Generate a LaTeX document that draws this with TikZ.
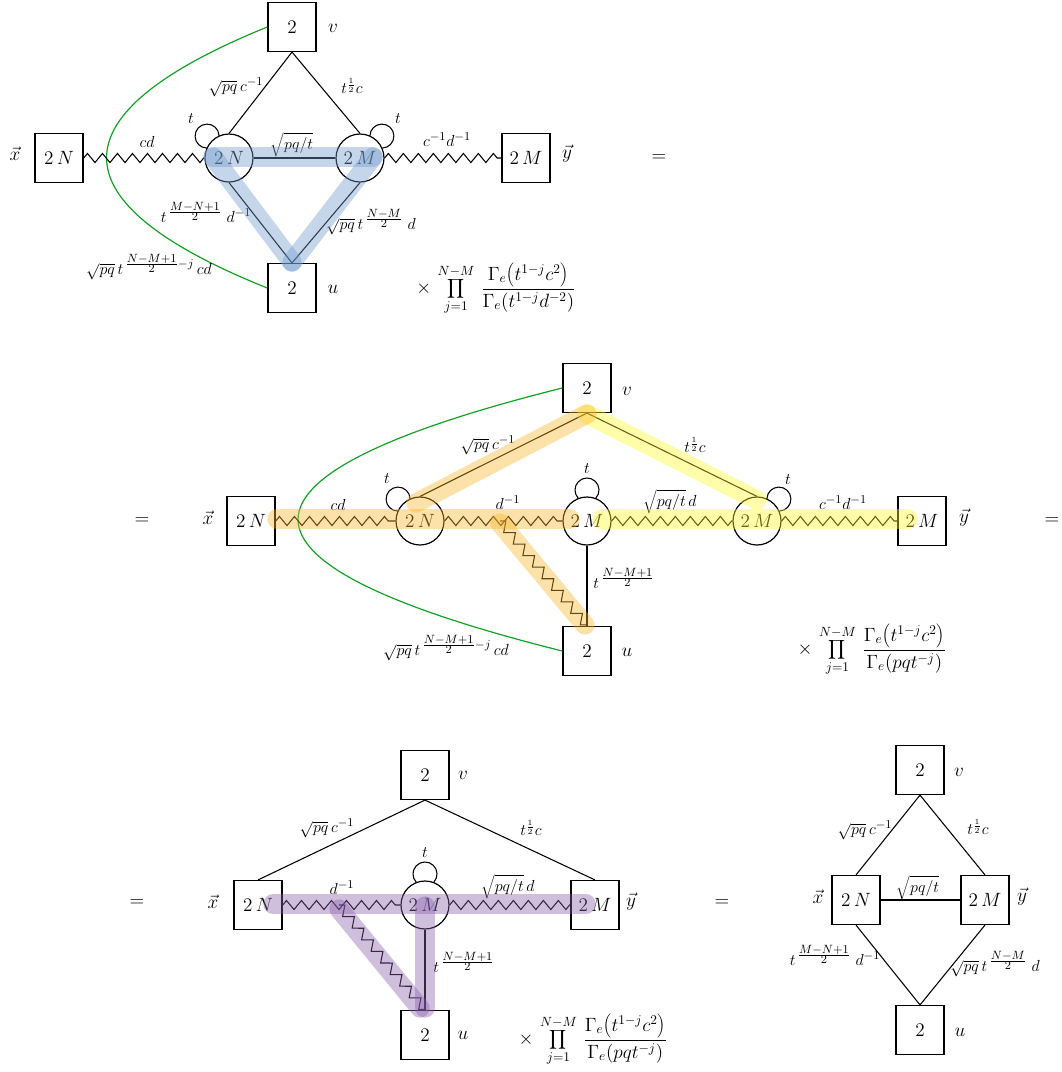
\documentclass[tikz,border=0pt]{standalone}
\usetikzlibrary{decorations.pathmorphing}
\definecolor{gcol}{RGB}{20,160,40}
\definecolor{bcol}{RGB}{110,152,203}
\definecolor{ocol}{RGB}{248,180,40}
\definecolor{ycol}{RGB}{255,250,40}
\definecolor{pcol}{RGB}{135,95,170}
\newcommand\myloop[2]{\draw[ln] ([shift={(#2:31)}]#1.center) ++(#2+227:12) arc[start angle=#2+227, end angle=#2+493, radius=12];}
\newcommand\hf[1]{\frac{\scriptstyle #1}{\scriptstyle 2}}
\begin{document}
\begin{tikzpicture}[x=0.75pt,y=0.75pt,
  every node/.style={font=\fontsize{15}{18}\selectfont, inner sep=1pt},
  sq/.style={draw, line width=1.1pt, minimum width=36pt, minimum height=36.5pt, inner sep=0pt},
  circ/.style={draw, circle, line width=0.9pt, minimum size=36pt, inner sep=0pt},
  ln/.style={line width=0.8pt},
  zz/.style={line width=0.8pt, decorate, decoration={zigzag, segment length=11.25pt, amplitude=3.4pt}},
  lab/.style={font=\fontsize{12.5}{15}\selectfont, inner sep=0pt},
  prod/.style={font=\fontsize{14}{17}\selectfont, inner sep=0pt},
  gline/.style={draw=gcol, line width=0.9pt},
  band/.style={line width=14.5pt, line cap=round, opacity=0.4},
  bandB/.style={band, draw=bcol},
  bandO/.style={band, draw=ocol},
  bandY/.style={band, draw=ycol},
  bandP/.style={band, draw=pcol}
]
\useasboundingbox (0,0) rectangle (1062,-1072);

% ================= TOP =================
\node[sq] (Tv) at (292,-27) {$2$};
\node[sq] (Tu) at (292,-288) {$2$};
\node[sq] (TN) at (59,-158) {$2\,N$};
\node[sq] (TM) at (526,-158) {$2\,M$};
\node[circ] (TcN) at (229,-158) {$2\,N$};
\node[circ] (TcM) at (360,-158) {$2\,M$};
\node (Tvl) at (333,-28) {$v$};
\node (Tul) at (333,-289) {$u$};
\node (Tx) at (15,-154) {$\vec{x}$};
\node (Ty) at (567,-154) {$\vec{y}$};
\node (Teq) at (659,-158) {$=$};

\draw[gline] (Tv.west) .. controls (53,-114) and (53,-202) .. (Tu.west);
\draw[ln] (Tv.south) -- (TcN.north);
\draw[ln] (Tv.south) -- (TcM.north);
\draw[ln] (TcN.south) -- (Tu.north);
\draw[ln] (TcM.south) -- (Tu.north);
\draw[ln] (TcN.east) -- (TcM.west);
\draw[zz] (TN.east) -- (TcN.west);
\draw[zz] (TcM.east) -- (TM.west);
\myloop{TcN}{135}
\myloop{TcM}{45}

\node[lab] at (147,-142) {$cd$};
\node[lab] at (236,-87) {$\sqrt{pq}\,c^{-1}$};
\node[lab] at (352,-86) {$t^{\frac{1}{2}}c$};
\node[lab] at (191,-119) {$t$};
\node[lab] at (398,-119) {$t$};
\node[lab] at (292,-145) {$\sqrt{pq/t}$};
\node[lab] at (447,-140) {$c^{-1}d^{-1}$};
\node[lab] at (206,-212) {$t^{\,\hf{M-N+1}}\;d^{-1}$};
\node[lab] at (371,-222) {$\sqrt{pq}\,t^{\,\hf{N-M}}\;d$};
\node[lab] at (149,-267) {$\sqrt{pq}\,t^{\,\hf{N-M+1}-j}\,cd$};
\node[prod] (Tp) at (496,-289) {$\times\,\displaystyle\prod_{j=1}^{N-M}\,\frac{\Gamma_{e}\!\left(t^{1-j}c^{2}\right)}{\Gamma_{e}\!\left(t^{1-j}d^{-2}\right)}$};

\draw[bandB] (213,-157) -- (373,-157);
\draw[bandB] (213,-157) -- (292,-262);
\draw[bandB] (373,-157) -- (292,-262);

% ================= MIDDLE =================
\node[sq] (Mv) at (587,-388) {$2$};
\node[sq] (Mu) at (587,-651) {$2$};
\node[sq] (MN) at (251,-521) {$2\,N$};
\node[sq] (MM) at (922,-521) {$2\,M$};
\node[circ] (McN) at (420,-521) {$2\,N$};
\node[circ] (McM) at (587,-521) {$2\,M$};
\node[circ] (McR) at (757,-521) {$2\,M$};
\node (Mvl) at (627,-391) {$v$};
\node (Mul) at (627,-652) {$u$};
\node (Mx) at (208,-518) {$\vec{x}$};
\node (My) at (964,-518) {$\vec{y}$};
\node (Meq1) at (142,-521) {$=$};
\node (Meq2) at (1052,-521) {$=$};
\coordinate (Mb) at (500,-521);

\draw[gline] (Mv.west) .. controls (210,-476) and (210,-563) .. (Mu.west);
\draw[ln] (Mv.south) -- (McN.north);
\draw[ln] (Mv.south) -- (McR.north);
\draw[ln] (McM.south) -- (Mu.north);
\draw[zz] (MN.east) -- (McN.west);
\draw[zz] (McN.east) -- (McM.west);
\draw[zz] (McM.east) -- (McR.west);
\draw[zz] (McR.east) -- (MM.west);
\draw[zz] (Mb) -- (Mu.north);
\myloop{McN}{135}
\myloop{McM}{90}
\myloop{McR}{45}

\node[lab] at (488,-445) {$\sqrt{pq}\,c^{-1}$};
\node[lab] at (695,-445) {$t^{\frac{1}{2}}c$};
\node[lab] at (387,-479) {$t$};
\node[lab] at (587,-469) {$t$};
\node[lab] at (788,-480) {$t$};
\node[lab] at (338,-505) {$cd$};
\node[lab] at (508,-503) {$d^{-1}$};
\node[lab] at (670,-502) {$\sqrt{pq/t}\,d$};
\node[lab] at (843,-503) {$c^{-1}d^{-1}$};
\node[lab] at (624,-578) {$t^{\,\hf{N-M+1}}$};
\node[lab] at (446,-648) {$\sqrt{pq}\,t^{\,\hf{N-M+1}-j}\,cd$};
\node[prod] (Mp) at (872,-650) {$\times\,\displaystyle\prod_{j=1}^{N-M}\,\frac{\Gamma_{e}\!\left(t^{1-j}c^{2}\right)}{\Gamma_{e}\!\left(pqt^{-j}\right)}$};

\draw[bandY] (602,-519) -- (908,-519);
\draw[bandY] (587,-414) -- (757,-500);
\draw[bandO] (277,-519) -- (570,-519);
\draw[bandO] (587,-414) -- (416,-503);
\draw[bandO] (500,-523) -- (585,-625);

% ================= BOTTOM LEFT =================
\node[sq] (Bv) at (425,-775) {$2$};
\node[sq] (Bu) at (425,-1035) {$2$};
\node[sq] (BN) at (258,-905) {$2\,N$};
\node[sq] (BM) at (595,-905) {$2\,M$};
\node[circ] (BcM) at (425,-905) {$2\,M$};
\node (Bvl) at (463,-775) {$v$};
\node (Bul) at (463,-1035) {$u$};
\node (Bx) at (213,-902) {$\vec{x}$};
\node (By) at (631,-902) {$\vec{y}$};
\node (Beq1) at (137,-903) {$=$};
\node (Beq2) at (722,-903) {$=$};
\coordinate (Bb) at (339,-905);

\draw[ln] (Bv.south) -- (BN.north);
\draw[ln] (Bv.south) -- (BM.north);
\draw[ln] (BcM.south) -- (Bu.north);
\draw[zz] (BN.east) -- (BcM.west);
\draw[zz] (BcM.east) -- (BM.west);
\draw[zz] (Bb) -- (Bu.north);
\myloop{BcM}{90}

\node[lab] at (327,-828) {$\sqrt{pq}\,c^{-1}$};
\node[lab] at (531,-828) {$t^{\frac{1}{2}}c$};
\node[lab] at (425,-853) {$t$};
\node[lab] at (342,-888) {$d^{-1}$};
\node[lab] at (508,-887) {$\sqrt{pq/t}\,d$};
\node[lab] at (464,-962) {$t^{\,\hf{N-M+1}}$};
\node[prod] (Bp) at (593,-1040) {$\times\,\displaystyle\prod_{j=1}^{N-M}\,\frac{\Gamma_{e}\!\left(t^{1-j}c^{2}\right)}{\Gamma_{e}\!\left(pqt^{-j}\right)}$};

\draw[bandP] (273,-904) -- (586,-904);
\draw[bandP] (425,-906) -- (425,-1008);
\draw[bandP] (339,-909) -- (420,-1008);

% ================= BOTTOM RIGHT =================
\node[sq] (Rv) at (920,-770) {$2$};
\node[sq] (Ru) at (920,-1030) {$2$};
\node[sq] (RN) at (856,-900) {$2\,N$};
\node[sq] (RM) at (985,-900) {$2\,M$};
\node (Rvl) at (959,-772) {$v$};
\node (Rul) at (960,-1032) {$u$};
\node (Rx) at (818,-897) {$\vec{x}$};
\node (Ry) at (1022,-897) {$\vec{y}$};

\draw[ln] (Rv.south) -- (RN.north);
\draw[ln] (Rv.south) -- (RM.north);
\draw[ln] (RN.south) -- (Ru.north);
\draw[ln] (RM.south) -- (Ru.north);
\draw[ln] (RN.east) -- (RM.west);

\node[lab] at (865,-830) {$\sqrt{pq}\,c^{-1}$};
\node[lab] at (978,-827) {$t^{\frac{1}{2}}c$};
\node[lab] at (918,-888) {$\sqrt{pq/t}$};
\node[lab] at (835,-955) {$t^{\,\hf{M-N+1}}\;d^{-1}$};
\node[lab] at (995,-964) {$\sqrt{pq}\,t^{\,\hf{N-M}}\;d$};
\end{tikzpicture}
\end{document}
